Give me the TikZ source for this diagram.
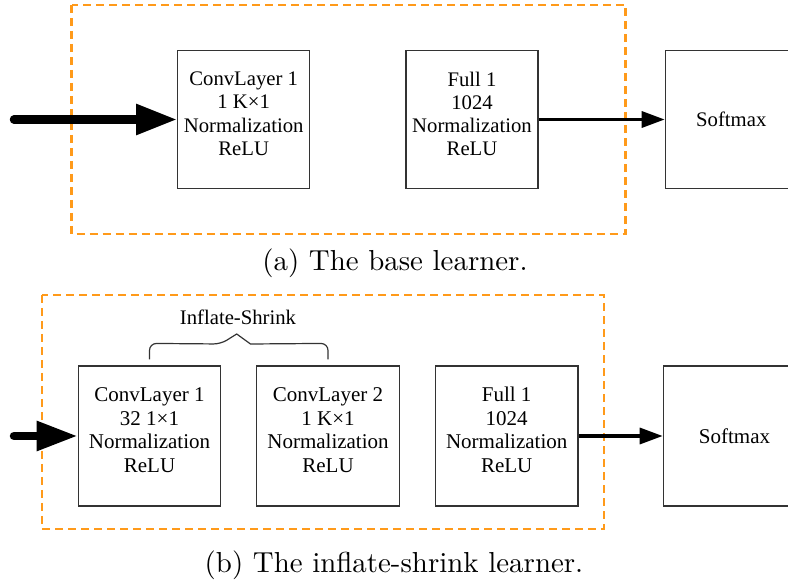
\documentclass[tikz,border=0pt]{standalone}
\usepackage{fontspec}
\newfontfamily\boxfont{Liberation Serif}
\newfontfamily\capfont{lmroman10-regular.otf}
\usetikzlibrary{arrows.meta,calc}
\definecolor{frameorange}{HTML}{FF9A1A}
\definecolor{edgegray}{HTML}{333333}

\begin{document}
\begin{tikzpicture}[x=1pt,y=-1pt,
  layer/.style={draw=edgegray, line width=1.2pt, inner sep=0pt},
  topbox/.style={layer, minimum width=132pt, minimum height=137.6pt},
  botbox/.style={layer, minimum width=142.4pt, minimum height=140pt},
  toptext/.style={align=center, inner sep=0pt, font=\boxfont\fontsize{20.7}{23.3}\selectfont},
  bottext/.style={align=center, inner sep=0pt, font=\boxfont\fontsize{21}{23.5}\selectfont},
  group/.style={draw=frameorange, line width=2.4pt, dash pattern=on 8pt off 5pt},
  feedarrow/.style={line width=8.5pt, line cap=round, -{Triangle[length=41pt,width=29pt]}},
  outarrow/.style={line width=3.3pt, -{Triangle[length=23pt,width=16pt]}},
  bracket/.style={draw=edgegray, line width=1.2pt},
  caption/.style={inner sep=0pt, anchor=base, font=\capfont\fontsize{28.9}{34}\selectfont}
]
\useasboundingbox (0,0) rectangle (788,585);
\clip (0,0) rectangle (788,585);

% ---------- (a) base learner ----------
\draw[group] (71.5,5) rectangle (625.5,234);

\node[topbox] (a1) at (243.7,119.5) {};
\node[topbox] (af) at (472,119.5) {};
\node[topbox] (asm) at (731.3,119.5) {};

\node[toptext] (a1t) at ($(a1.center)+(0,-5.6)$) {ConvLayer 1\\1 K×1\\Normalization\\ReLU};
\node[toptext] (aft) at ($(af.center)+(0,-5.6)$) {Full 1\\1024\\Normalization\\ReLU};
\node[toptext] (asmt) at (asm.center) {Softmax};

\coordinate (ain) at (14,119.5);
\draw[feedarrow] (ain) -- (a1.west);
\draw[outarrow] (af.east) -- (asm.west);

\node[caption] (capa) at (395,270.5) {(a) The base learner.};

% ---------- (b) inflate-shrink learner ----------
\draw[group] (41.7,295) rectangle (604,528.7);

\node[botbox] (b1) at (149.5,436) {};
\node[botbox] (b2) at (328,436) {};
\node[botbox] (bf) at (506.7,436) {};
\node[botbox] (bsm) at (734.5,436) {};

\node[bottext] (b1t) at ($(b1.center)+(0,-6)$) {ConvLayer 1\\32 1×1\\Normalization\\ReLU};
\node[bottext] (b2t) at ($(b2.center)+(0,-6)$) {ConvLayer 2\\1 K×1\\Normalization\\ReLU};
\node[bottext] (bft) at ($(bf.center)+(0,-6)$) {Full 1\\1024\\Normalization\\ReLU};
\node[bottext] (bsmt) at (bsm.center) {Softmax};

\coordinate (bin) at (14,436);
\draw[feedarrow, -{Triangle[length=41pt,width=28pt]}] (bin) -- (b1.west);
\draw[outarrow] (bf.east) -- (bsm.west);

% brace over the two convolution layers
\draw[bracket]
  ($(b1.north)+(0,-6)$) [rounded corners=7pt] -- ($(b1.north)+(0,-22)$) -- (220.7,344)
  [sharp corners] -- (236.7,334) -- (250.5,344)
  [rounded corners=7pt] -- ($(b2.north)+(0,-22)$) -- ($(b2.north)+(0,-6)$);
\node[inner sep=0pt, anchor=base, font=\boxfont\fontsize{20.7}{23.3}\selectfont] (brl) at (238,325) {Inflate-Shrink};

\node[caption] (capb) at (394,572) {(b) The inflate-shrink learner.};
\end{tikzpicture}
\end{document}
